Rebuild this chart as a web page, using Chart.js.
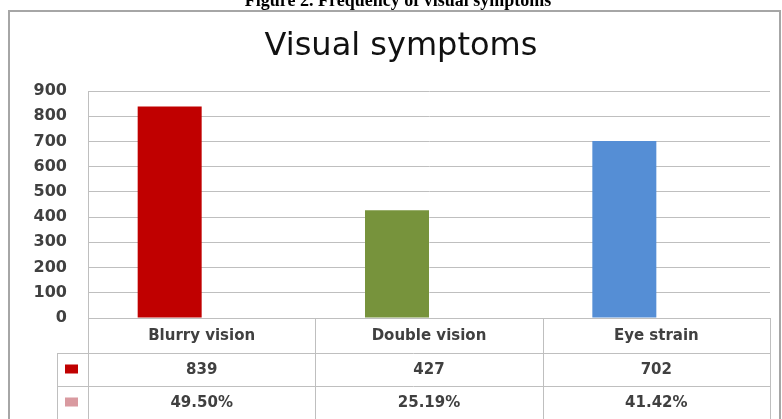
<!DOCTYPE html>
<html>
<head>
<meta charset="utf-8">
<script src="https://cdn.jsdelivr.net/npm/chart.js@4"></script>
<style>
  body { margin: 0; background: #fff; }
</style>
</head>
<body>
<canvas id="myChart" width="782" height="419"></canvas>
<script>
// data
const categories = ['Blurry vision', 'Double vision', 'Eye strain'];
const counts = [839, 427, 702];
const shares = [0.4950, 0.2519, 0.4142];
const yTicks = [0, 100, 200, 300, 400, 500, 600, 700, 800, 900];

const barColors = ['#C00000', '#77933C', '#558ED5'];
const shareColor = '#D99AA0';
const lineColor = '#BFBFBF';
const textColor = '#404040';

// draws the frame, caption, title and the data table under the bars
const tablePlugin = {
    id: 'dataTable',
    afterDraw(chart) {
        const ctx = chart.ctx;
        const area = chart.chartArea;
        const x = chart.scales.x;
        const rowTop = area.bottom;
        const rows = [rowTop, rowTop + 35, rowTop + 68, rowTop + 101];
        const leftCol = 57;

        ctx.save();
        // outer frame
        ctx.strokeStyle = '#A6A6A6';
        ctx.lineWidth = 2;
        ctx.strokeRect(9, 11, 771, 420);

        // caption, mostly cut off at the top
        ctx.fillStyle = '#000';
        ctx.font = 'bold 18px "Liberation Serif"';
        ctx.textAlign = 'center';
        ctx.textBaseline = 'alphabetic';
        ctx.fillText('Figure 2. Frequency of visual symptoms', 398, 6);

        // title
        ctx.fillStyle = '#111';
        ctx.font = '32px "DejaVu Sans"';
        ctx.fillText('Visual symptoms', 401, 55);

        // table lines
        ctx.strokeStyle = lineColor;
        ctx.lineWidth = 1;
        ctx.beginPath();
        ctx.moveTo(area.left, rows[0] + 0.5); ctx.lineTo(area.right, rows[0] + 0.5);
        for (let i = 1; i < rows.length; i++) {
            ctx.moveTo(leftCol, rows[i] + 0.5); ctx.lineTo(area.right, rows[i] + 0.5);
        }
        ctx.moveTo(leftCol + 0.5, rows[1]); ctx.lineTo(leftCol + 0.5, rows[3]);
        const step = (area.right - area.left) / categories.length;
        for (let i = 0; i <= categories.length; i++) {
            const px = Math.round(area.left + step * i) + 0.5;
            ctx.moveTo(px, rows[0]); ctx.lineTo(px, rows[3]);
        }
        ctx.stroke();

        // header row and values
        ctx.fillStyle = textColor;
        ctx.font = 'bold 15px "DejaVu Sans"';
        ctx.textBaseline = 'middle';
        categories.forEach((c, i) => {
            const cx = x.getPixelForValue(i);
            ctx.fillText(c, cx, (rows[0] + rows[1]) / 2 + 1);
            ctx.fillText(String(counts[i]), cx, (rows[1] + rows[2]) / 2 + 1);
            ctx.fillText((shares[i] * 100).toFixed(2) + '%', cx, (rows[2] + rows[3]) / 2 + 1);
        });

        // legend keys
        ctx.fillStyle = barColors[0];
        ctx.fillRect(65, (rows[1] + rows[2]) / 2 - 5, 13, 9);
        ctx.fillStyle = shareColor;
        ctx.fillRect(65, (rows[2] + rows[3]) / 2 - 5, 13, 9);
        ctx.restore();
    }
};

let myChart = document.getElementById('myChart').getContext('2d');

let symptomsChart = new Chart(myChart, {
    type: 'bar',
    data: {
        labels: categories,
        datasets: [{
            label: 'Count',
            data: counts,
            backgroundColor: barColors,
            categoryPercentage: 0.563,
            barPercentage: 1
        }, {
            // shares are fractions, so their bars are flat (not visible in the figure)
            label: 'Share',
            data: shares,
            backgroundColor: 'rgba(0,0,0,0)',
            categoryPercentage: 0.563,
            barPercentage: 1
        }]
    },
    options: {
        responsive: false,
        animation: false,
        layout: { padding: { top: 91, bottom: 101, left: 0, right: 12 } },
        plugins: {
            legend: { display: false },
            title: { display: false },
            tooltip: { enabled: false }
        },
        scales: {
            x: { display: false },
            y: {
                min: 0,
                max: 900,
                afterFit(scale) { scale.width = 88; },
                afterBuildTicks(scale) { scale.ticks = yTicks.map(v => ({ value: v })); },
                border: { display: true, color: lineColor },
                grid: { color: lineColor, drawTicks: false },
                ticks: {
                    padding: 21,
                    color: textColor,
                    font: { family: 'DejaVu Sans', size: 16, weight: 'bold' }
                }
            }
        }
    },
    plugins: [tablePlugin]
});
</script>
</body>
</html>
